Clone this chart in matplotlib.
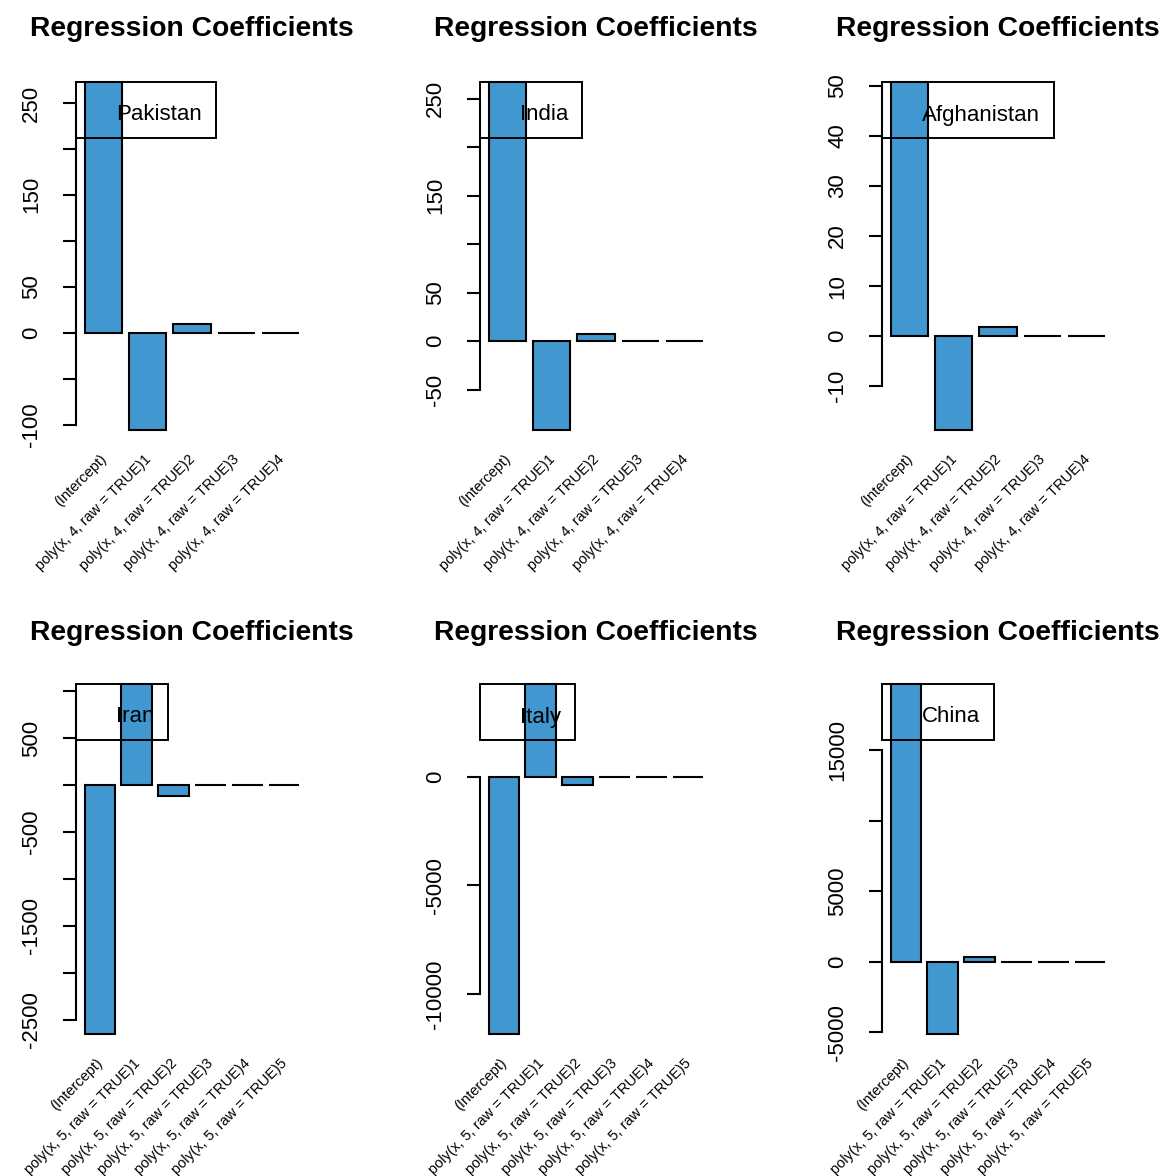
import matplotlib
matplotlib.use("Agg")
import matplotlib.pyplot as plt
from matplotlib.patches import Rectangle
from matplotlib.transforms import blended_transform_factory, ScaledTranslation

plt.rcParams['font.family'] = ['Liberation Sans', 'DejaVu Sans']

# ---- data -------------------------------------------------------------
countries = ["Pakistan", "India", "Afghanistan", "Iran", "Italy", "China"]

terms_deg4 = ["(Intercept)",
              "poly(x, 4, raw = TRUE)1", "poly(x, 4, raw = TRUE)2",
              "poly(x, 4, raw = TRUE)3", "poly(x, 4, raw = TRUE)4"]
terms_deg5 = ["(Intercept)",
              "poly(x, 5, raw = TRUE)1", "poly(x, 5, raw = TRUE)2",
              "poly(x, 5, raw = TRUE)3", "poly(x, 5, raw = TRUE)4",
              "poly(x, 5, raw = TRUE)5"]

pakistan_coef = [272.8, -105.8, 9.5, -0.35, 0.002]
india_coef = [267.0, -91.4, 7.6, -0.2, 0.003]
afghanistan_coef = [50.7, -18.7, 1.8, -0.05, 0.0006]
iran_coef = [-2653.0, 1079.0, -117.0, 4.5, -0.1, 0.001]
italy_coef = [-11840.0, 4266.0, -382.0, 0.8, -0.02, 0.0002]
china_coef = [19680.0, -5124.0, 333.0, -5.0, 0.05, -0.0005]

pakistan_yticks = [-100, -50, 0, 50, 100, 150, 200, 250]
pakistan_ylabels = ["-100", "", "0", "50", "", "150", "", "250"]
india_yticks = [-50, 0, 50, 100, 150, 200, 250]
india_ylabels = ["-50", "0", "50", "", "150", "", "250"]
afghanistan_yticks = [-10, 0, 10, 20, 30, 40, 50]
afghanistan_ylabels = ["-10", "0", "10", "20", "30", "40", "50"]
iran_yticks = [-2500, -2000, -1500, -1000, -500, 0, 500, 1000]
iran_ylabels = ["-2500", "", "-1500", "", "-500", "", "500", ""]
italy_yticks = [-10000, -5000, 0]
italy_ylabels = ["-10000", "-5000", "0"]
china_yticks = [-5000, 0, 5000, 10000, 15000]
china_ylabels = ["-5000", "0", "5000", "", "15000"]

panels = [
    (countries[0], terms_deg4, pakistan_coef, pakistan_yticks, pakistan_ylabels),
    (countries[1], terms_deg4, india_coef, india_yticks, india_ylabels),
    (countries[2], terms_deg4, afghanistan_coef, afghanistan_yticks, afghanistan_ylabels),
    (countries[3], terms_deg5, iran_coef, iran_yticks, iran_ylabels),
    (countries[4], terms_deg5, italy_coef, italy_yticks, italy_ylabels),
    (countries[5], terms_deg5, china_coef, china_yticks, china_ylabels),
]

# ---- layout (pixels) --------------------------------------------------
W, H = 1162, 1176
DPI = 100
col_left = [76, 480, 882]
plot_w = 232
row_top = [82, 684]
plot_h = [348, 350]
title_y = [29, 633]

BAR_COLOR = "#4197D0"

fig = plt.figure(figsize=(W / DPI, H / DPI), dpi=DPI)
renderer = fig.canvas.get_renderer()


def px_rect(left, top, width, height):
    return [left / W, 1 - (top + height) / H, width / W, height / H]


for i, (name, terms, coefs, yt, yl) in enumerate(panels):
    r, c = divmod(i, 3)
    left, top, h = col_left[c], row_top[r], plot_h[r]
    ax = fig.add_axes(px_rect(left, top, plot_w, h))

    n = len(coefs)
    centers = [0.7 + 1.2 * k for k in range(n)]
    lo, hi = 0.2, 1.2 * n
    pad = 0.04 * (hi - lo)
    ax.set_xlim(lo - pad, hi + pad)
    ax.set_ylim(min(coefs), max(coefs))

    ax.bar(centers, coefs, width=1.0, color=BAR_COLOR, edgecolor="black",
           linewidth=1.5, clip_on=False, zorder=2)

    for s in ("top", "right", "bottom"):
        ax.spines[s].set_visible(False)
    ax.spines["left"].set_linewidth(1.5)
    ax.spines["left"].set_bounds(yt[0], yt[-1])
    ax.set_xticks([])
    ax.set_yticks(yt)
    ax.set_yticklabels(yl, rotation=90, va="center", fontsize=16)
    ax.tick_params(axis="y", direction="out", length=9.4, width=1.5, pad=15)
    ax.patch.set_visible(False)

    # rotated coefficient names below the bars
    trans = blended_transform_factory(ax.transData, ax.transAxes) + \
        ScaledTranslation(1 / DPI, -27 / DPI, fig.dpi_scale_trans)
    for x, lab in zip(centers, terms):
        ax.text(x, 0, lab, transform=trans, rotation=45,
                rotation_mode="anchor", ha="right", va="center",
                fontsize=10.5, clip_on=False)

    # panel title
    fig.text((left + plot_w / 2) / W, 1 - title_y[r] / H,
             "Regression Coefficients", ha="center", va="center",
             fontsize=20.3, fontweight="bold")

    # legend box with the country name
    txt = fig.text((left + 40) / W, 1 - (top + 33) / H, name,
                   ha="left", va="center", fontsize=16, zorder=5)
    tw = txt.get_window_extent(renderer).width
    box_w, box_h = tw + 54, 56
    fig.add_artist(Rectangle((left / W, 1 - (top + box_h) / H),
                             box_w / W, box_h / H, transform=fig.transFigure,
                             fill=False, edgecolor="black", linewidth=1.4,
                             zorder=4))

fig.savefig("out.png", dpi=DPI)
